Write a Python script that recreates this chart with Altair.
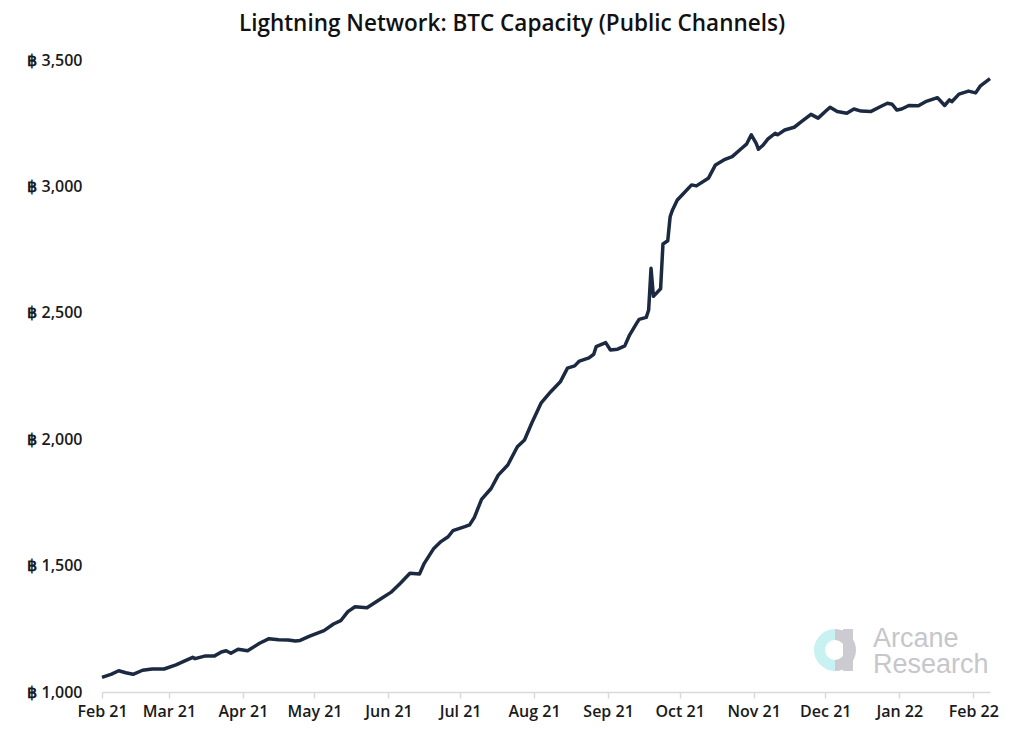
import altair as alt
import pandas as pd

dates = [
    "2021-02-01", "2021-02-05", "2021-02-08", "2021-02-11", "2021-02-14", "2021-02-18",
    "2021-02-22", "2021-02-27", "2021-03-04", "2021-03-07", "2021-03-11", "2021-03-12",
    "2021-03-16", "2021-03-20", "2021-03-23", "2021-03-25", "2021-03-27", "2021-03-30",
    "2021-04-03", "2021-04-08", "2021-04-12", "2021-04-16", "2021-04-20", "2021-04-23",
    "2021-04-25", "2021-04-29", "2021-05-02", "2021-05-05", "2021-05-09", "2021-05-12",
    "2021-05-15", "2021-05-18", "2021-05-23", "2021-05-29", "2021-06-02", "2021-06-06",
    "2021-06-10", "2021-06-14", "2021-06-16", "2021-06-20", "2021-06-23", "2021-06-26",
    "2021-06-28", "2021-07-03", "2021-07-05", "2021-07-07", "2021-07-10", "2021-07-14",
    "2021-07-17", "2021-07-21", "2021-07-25", "2021-07-28", "2021-07-31", "2021-08-04",
    "2021-08-08", "2021-08-12", "2021-08-15", "2021-08-18", "2021-08-20", "2021-08-24",
    "2021-08-26", "2021-08-27", "2021-08-31", "2021-09-02", "2021-09-05", "2021-09-08",
    "2021-09-10", "2021-09-13", "2021-09-14", "2021-09-17", "2021-09-18", "2021-09-19",
    "2021-09-20", "2021-09-23", "2021-09-24", "2021-09-26", "2021-09-27", "2021-09-28",
    "2021-09-30", "2021-10-02", "2021-10-06", "2021-10-08", "2021-10-13", "2021-10-16",
    "2021-10-20", "2021-10-23", "2021-10-27", "2021-10-29", "2021-10-31", "2021-11-02",
    "2021-11-03", "2021-11-05", "2021-11-07", "2021-11-10", "2021-11-11", "2021-11-14",
    "2021-11-18", "2021-11-21", "2021-11-25", "2021-11-28", "2021-12-01", "2021-12-03",
    "2021-12-06", "2021-12-10", "2021-12-13", "2021-12-16", "2021-12-20", "2021-12-24",
    "2021-12-27", "2021-12-29", "2021-12-31", "2022-01-02", "2022-01-05", "2022-01-09",
    "2022-01-12", "2022-01-17", "2022-01-20", "2022-01-22", "2022-01-23", "2022-01-26",
    "2022-01-30", "2022-02-02", "2022-02-04", "2022-02-08",
]

capacity_btc = [
    1058, 1071, 1084, 1076, 1070, 1086,
    1091, 1091, 1107, 1120, 1137, 1132,
    1142, 1142, 1158, 1163, 1153, 1169,
    1163, 1193, 1211, 1207, 1206, 1202,
    1204, 1221, 1232, 1243, 1269, 1282,
    1318, 1337, 1333, 1370, 1394, 1430,
    1470, 1467, 1509, 1568, 1595, 1614,
    1638, 1654, 1661, 1691, 1762, 1805,
    1858, 1898, 1970, 1997, 2063, 2144,
    2188, 2227, 2281, 2290, 2309, 2322,
    2336, 2366, 2382, 2353, 2356, 2369,
    2412, 2459, 2474, 2482, 2511, 2676,
    2565, 2595, 2772, 2785, 2880, 2907,
    2946, 2966, 3006, 3002, 3032, 3085,
    3107, 3118, 3151, 3167, 3204, 3171,
    3147, 3164, 3188, 3210, 3204, 3223,
    3234, 3256, 3285, 3270, 3296, 3313,
    3296, 3289, 3306, 3298, 3296, 3315,
    3329, 3325, 3302, 3306, 3320, 3319,
    3335, 3351, 3320, 3342, 3335, 3365,
    3377, 3370, 3398, 3426,
]

y_ticks = [1000, 1500, 2000, 2500, 3000, 3500]
x_domain = ["2021-02-01", "2022-02-08"]
title_text = "Lightning Network: BTC Capacity (Public Channels)"
brand_lines = ["Arcane", "Research"]

df = pd.DataFrame({"date": dates, "capacity": capacity_btc})

FONT = "Open Sans"
LABEL_COLOR = "#1a1a1a"

line = alt.Chart(df).mark_line(color="#1b2a41", strokeWidth=3.5, strokeJoin="round").encode(
    x=alt.X(
        "date:T",
        title=None,
        scale=alt.Scale(domain=x_domain, nice=False),
        axis=alt.Axis(
            format="%b %y",
            tickCount={"interval": "month", "step": 1},
            labelFlush=False,
            labelOverlap=False,
            grid=False,
            domainColor="#d9d9d9",
            domainWidth=1.5,
            tickColor="#d9d9d9",
            tickWidth=1.5,
            tickSize=6,
            labelPadding=5,
            labelFont=FONT,
            labelFontSize=16,
            labelFontWeight=600,
            labelColor=LABEL_COLOR,
        ),
    ),
    y=alt.Y(
        "capacity:Q",
        title=None,
        scale=alt.Scale(domain=[1000, 3500], nice=False, zero=False),
        axis=alt.Axis(
            values=y_ticks,
            labelExpr="'\u0e3f ' + format(datum.value, ',')",
            domain=False,
            ticks=False,
            tickSize=0,
            grid=False,
            labelPadding=20,
            labelFont=FONT,
            labelFontSize=16,
            labelFontWeight=600,
            labelColor=LABEL_COLOR,
        ),
    ),
)

one = pd.DataFrame({"k": [0]})

ring_cyan = alt.Chart(one).mark_arc(
    innerRadius=10, outerRadius=21, theta=3.14159, theta2=6.28318, color="#c8f1f2"
).encode(x=alt.value(733), y=alt.value(590))
ring_gray = alt.Chart(one).mark_arc(
    innerRadius=10, outerRadius=21, theta=0, theta2=3.14159, color="#cbcbd1"
).encode(x=alt.value(733), y=alt.value(590))
bar = alt.Chart(one).mark_rect(color="#cbcbd1").encode(
    x=alt.value(741), x2=alt.value(751), y=alt.value(569), y2=alt.value(611)
)
txt1 = alt.Chart(one).mark_text(
    text=brand_lines[0], align="left", baseline="alphabetic", font="Liberation Sans",
    fontSize=27, color="#c6c6cb"
).encode(x=alt.value(771), y=alt.value(587))
txt2 = alt.Chart(one).mark_text(
    text=brand_lines[1], align="left", baseline="alphabetic", font="Liberation Sans",
    fontSize=27, color="#c6c6cb"
).encode(x=alt.value(771), y=alt.value(613))

chart = alt.layer(ring_cyan, ring_gray, bar, txt1, txt2, line).properties(
    width=888,
    height=632,
    background="white",
    title=alt.TitleParams(
        text=title_text,
        font=FONT,
        fontSize=22.5,
        fontWeight=600,
        color="#111111",
        anchor="middle",
        dx=-34,
        offset=17,
    ),
    padding={"left": 94, "top": 52, "right": 35, "bottom": 30},
    autosize=alt.AutoSizeParams(type="none"),
).configure_view(stroke=None, strokeWidth=0)

chart.save("out.html", embed_options={"renderer": "svg", "actions": False})
